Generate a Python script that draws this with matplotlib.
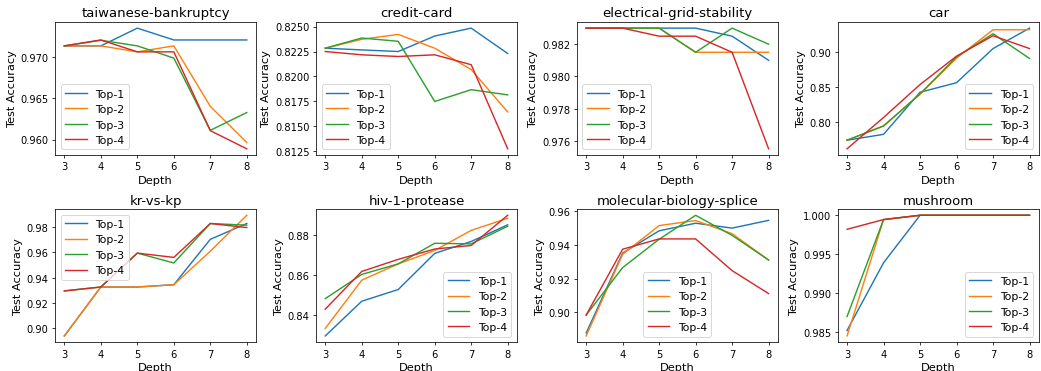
import matplotlib
matplotlib.use("Agg")
import matplotlib.pyplot as plt
from matplotlib.ticker import MultipleLocator

depths = [3, 4, 5, 6, 7, 8]
labels = ["Top-1", "Top-2", "Top-3", "Top-4"]

# test accuracy per dataset, one list per top-k setting
taiwanese = [
    [0.97141, 0.97141, 0.97357, 0.97213, 0.97213, 0.97213],
    [0.97141, 0.97141, 0.97068, 0.97141, 0.96404, 0.95964],
    [0.97141, 0.97209, 0.97141, 0.96992, 0.96112, 0.96329],
    [0.97141, 0.97213, 0.97068, 0.97068, 0.96108, 0.95887],
]
credit = [
    [0.82283, 0.82266, 0.82250, 0.82405, 0.82484, 0.82230],
    [0.82283, 0.82372, 0.82421, 0.82283, 0.82069, 0.81645],
    [0.82283, 0.82385, 0.82352, 0.81750, 0.81868, 0.81816],
    [0.82250, 0.82217, 0.82200, 0.82217, 0.82118, 0.81276],
]
grid = [
    [0.9830, 0.9830, 0.9830, 0.9830, 0.9825, 0.9810],
    [0.9830, 0.9830, 0.9830, 0.9815, 0.9815, 0.9815],
    [0.9830, 0.9830, 0.9830, 0.9815, 0.9830, 0.9820],
    [0.9830, 0.9830, 0.9825, 0.9825, 0.9815, 0.9755],
]
car = [
    [0.7742, 0.7826, 0.8425, 0.8561, 0.9047, 0.9338],
    [0.7742, 0.7948, 0.8399, 0.8911, 0.9315, 0.9315],
    [0.7742, 0.7944, 0.8400, 0.8930, 0.9258, 0.8906],
    [0.7620, 0.8066, 0.8535, 0.8939, 0.9230, 0.9047],
]
krkp = [
    [0.8940, 0.9327, 0.9327, 0.9345, 0.9704, 0.9829],
    [0.8940, 0.9327, 0.9327, 0.9345, 0.9610, 0.9894],
    [0.9296, 0.9327, 0.9595, 0.9517, 0.9829, 0.9816],
    [0.9296, 0.9327, 0.9595, 0.9561, 0.9829, 0.9797],
]
hiv = [
    [0.8293, 0.8468, 0.8527, 0.8709, 0.8769, 0.8853],
    [0.8331, 0.8574, 0.8656, 0.8724, 0.8825, 0.8886],
    [0.8481, 0.8603, 0.8656, 0.8760, 0.8757, 0.8846],
    [0.8428, 0.8618, 0.8679, 0.8731, 0.8749, 0.8901],
]
splice = [
    [0.8877, 0.9351, 0.9483, 0.9528, 0.9499, 0.9545],
    [0.8860, 0.9344, 0.9514, 0.9544, 0.9466, 0.9310],
    [0.8984, 0.9265, 0.9433, 0.9575, 0.9456, 0.9310],
    [0.8984, 0.9374, 0.9435, 0.9435, 0.9247, 0.9111],
]
mushroom = [
    [0.9852, 0.9939, 1.0, 1.0, 1.0, 1.0],
    [0.9845, 0.99945, 1.0, 1.0, 1.0, 1.0],
    [0.9870, 0.99945, 1.0, 1.0, 1.0, 1.0],
    [0.9982, 0.99945, 1.0, 1.0, 1.0, 1.0],
]

# name, data, legend location, y tick step
datasets = [
    ("taiwanese-bankruptcy", taiwanese, "lower left", 0.005),
    ("credit-card", credit, "lower left", 0.0025),
    ("electrical-grid-stability", grid, "lower left", 0.002),
    ("car", car, "lower right", 0.05),
    ("kr-vs-kp", krkp, "upper left", 0.02),
    ("hiv-1-protease", hiv, "lower right", 0.02),
    ("molecular-biology-splice", splice, "lower center", 0.02),
    ("mushroom", mushroom, "lower right", 0.005),
]

fig, axs = plt.subplots(2, 4, figsize=(15.32, 5.47), dpi=68)
for ax, (name, vals, loc, step) in zip(axs.flat, datasets):
    for lab, v in zip(labels, vals):
        ax.plot(depths, v, label=lab)
    ax.set_title(name, fontsize=14)
    ax.set_xlabel("Depth", fontsize=12)
    ax.set_ylabel("Test Accuracy", fontsize=12)
    ax.tick_params(labelsize=10.5)
    ax.set_xticks(depths)
    ax.yaxis.set_major_locator(MultipleLocator(step))
    ax.legend(loc=loc, fontsize=11.5)

plt.subplots_adjust(left=0.053, right=0.997, top=0.938, bottom=0.078,
                    wspace=0.30, hspace=0.41)
plt.savefig("out.png", dpi=68)
